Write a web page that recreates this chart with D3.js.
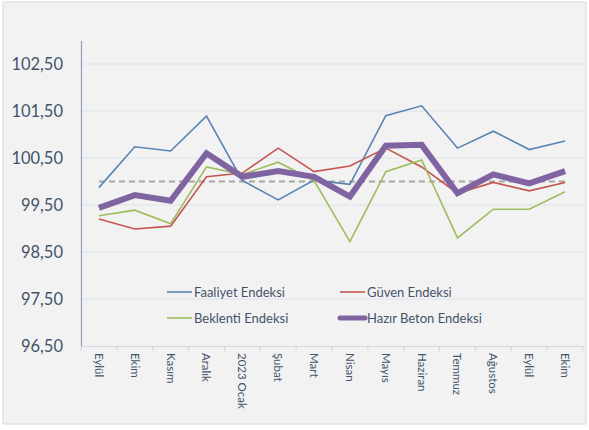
<!DOCTYPE html>
<html><head><meta charset="utf-8">
<script src="https://cdn.jsdelivr.net/npm/d3@7"></script>
<style>body{margin:0;background:#fff}svg{display:block}</style>
</head><body>
<svg id="c" width="589" height="430"></svg>
<script>
const categories = ["Eylül","Ekim","Kasım","Aralık","2023 Ocak","Şubat","Mart","Nisan","Mayıs","Haziran","Temmuz","Ağustos","Eylül","Ekim"];
const faaliyet = [99.87,100.74,100.65,101.39,100.02,99.61,100.03,99.94,101.40,101.61,100.71,101.07,100.68,100.86];
const guven    = [99.20,98.99,99.05,100.10,100.18,100.71,100.21,100.33,100.71,100.31,99.75,99.98,99.80,99.98];
const beklenti = [99.27,99.39,99.10,100.31,100.15,100.41,100.02,98.72,100.21,100.46,98.80,99.41,99.41,99.78];
const hazirBeton = [99.44,99.71,99.59,100.60,100.10,100.22,100.10,99.68,100.76,100.78,99.75,100.15,99.96,100.22];
const yTicks = [96.5,97.5,98.5,99.5,100.5,101.5,102.5];
const refValue = 100;
const seriesNames = ["Faaliyet Endeksi","Güven Endeksi","Beklenti Endeksi","Hazır Beton Endeksi"];

const svg = d3.select("#c");
const font = "Lato, 'Open Sans', sans-serif";
const textCol = "#44546a";

svg.append("rect").attr("x",3).attr("y",2).attr("width",583).attr("height",422)
  .attr("fill","#f2f2f2").attr("stroke","#d9d9d9").attr("stroke-width",1);

const x = d3.scaleBand().domain(d3.range(categories.length)).range([81,583]);
const y = d3.scaleLinear().domain([96.5,103]).range([346,40.5]);

// gridlines
svg.append("g").selectAll("line").data(yTicks.slice(1)).join("line")
  .attr("x1",81).attr("x2",583).attr("y1",d=>y(d)).attr("y2",d=>y(d))
  .attr("stroke","#dde3ea").attr("stroke-width",1);

// y axis
const ya = svg.append("g").attr("transform","translate(81,0)")
  .call(d3.axisLeft(y).tickValues(yTicks).tickSize(0).tickPadding(18)
    .tickFormat(d=>d3.format(".2f")(d).replace(".",",")));
ya.select(".domain").attr("stroke","#8ea0b8").attr("stroke-width",1.2);
ya.selectAll("text").attr("font-family",font).attr("font-size",16.5).attr("fill",textCol);

// x axis
const xa = svg.append("g").attr("transform","translate(0,346)")
  .call(d3.axisBottom(x).tickSize(0).tickFormat(i=>categories[i]));
xa.select(".domain").attr("stroke","#d0d7e0");
xa.selectAll("text").attr("font-family",font).attr("font-size",11.5).attr("fill",textCol)
  .attr("text-anchor","start").attr("transform","rotate(90)").attr("x",7).attr("y",0).attr("dy","0.35em");
svg.append("g").selectAll("line").data(d3.range(categories.length+1)).join("line")
  .attr("x1",i=>81+x.step()*i).attr("x2",i=>81+x.step()*i).attr("y1",346).attr("y2",351)
  .attr("stroke","#d0d7e0");

// reference line
svg.append("line").attr("x1",x(0)+x.bandwidth()/2).attr("x2",x(categories.length-1)+x.bandwidth()/2)
  .attr("y1",y(refValue)).attr("y2",y(refValue))
  .attr("stroke","#a6a6a6").attr("stroke-width",2).attr("stroke-dasharray","6,4");

const line = d3.line().x((d,i)=>x(i)+x.bandwidth()/2).y(d=>y(d));
const series = [
  {name:seriesNames[0], data:faaliyet, color:"#5884b4", w:1.6},
  {name:seriesNames[1], data:guven, color:"#c45651", w:1.6},
  {name:seriesNames[2], data:beklenti, color:"#9dbd5c", w:1.6},
  {name:seriesNames[3], data:hazirBeton, color:"#8064a2", w:6}
];
series.forEach(s=>{
  svg.append("path").datum(s.data).attr("d",line).attr("fill","none")
    .attr("stroke",s.color).attr("stroke-width",s.w).attr("stroke-linejoin","miter");
});

// legend
const legPos = [[167,292],[340,292],[167,318],[340,318]];
series.forEach((s,i)=>{
  const [lx,ly] = legPos[i];
  svg.append("line").attr("x1",lx).attr("x2",lx+25).attr("y1",ly).attr("y2",ly)
    .attr("stroke",s.color).attr("stroke-width",s.w===6?5:1.6).attr("stroke-linecap",s.w===6?"round":"butt");
  svg.append("text").attr("x",lx+27).attr("y",ly).attr("dy","0.35em")
    .attr("font-family",font).attr("font-size",13).attr("fill",textCol).text(s.name);
});
</script>
</body></html>
